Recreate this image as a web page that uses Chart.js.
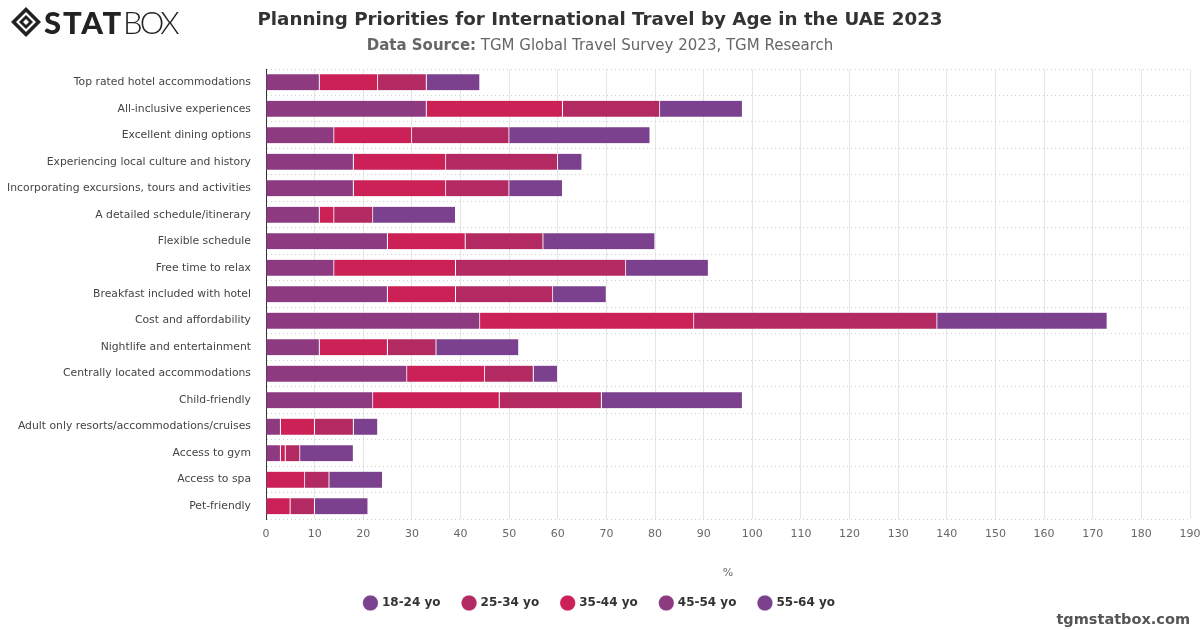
<!DOCTYPE html>
<html>
<head>
<meta charset="utf-8">
<script src="https://cdn.jsdelivr.net/npm/chart.js@4.4.1/dist/chart.umd.min.js"></script>
<style>
  html, body { margin:0; padding:0; background:#fff; }
  #wrap { position:relative; width:1200px; height:630px; overflow:hidden; }
  #c { position:absolute; left:0; top:0; }
  #title { position:absolute; left:0; width:1200px; top:8px; text-align:center; font-family:"DejaVu Sans", sans-serif; font-weight:bold; font-size:18.3px; color:#333; }
  #subtitle { position:absolute; left:0; width:1200px; top:36px; text-align:center; font-family:"DejaVu Sans", sans-serif; font-size:15px; color:#666; }
  #logo { position:absolute; left:10px; top:5px; height:34px; display:flex; align-items:center; font-family:Lato, "DejaVu Sans", sans-serif; font-size:31px; color:#222; }
  #footer { position:absolute; right:10px; top:611px; font-family:"DejaVu Sans", sans-serif; font-weight:bold; font-size:14.5px; color:#555; }
</style>
</head>
<body>
<div id="wrap">
  <canvas id="c" width="1200" height="630"></canvas>
  <div id="logo">
    <svg width="32" height="32" viewBox="0 0 32 32" style="margin-right:2px">
      <polygon points="16,1 31,16 16,31 1,16" fill="#222"/>
      <polygon points="16,6 26,16 16,26 6,16" fill="#fff"/>
      <polygon points="16,9 23,16 16,23 9,16" fill="#222"/>
      <polygon points="16,13 19,16 16,19 13,16" fill="#fff"/>
    </svg>
    <span style="font-weight:900; letter-spacing:1.8px">STAT</span><span style="font-weight:300; letter-spacing:-3px">BOX</span>
  </div>
  <div id="title">Planning Priorities for International Travel by Age in the UAE 2023</div>
  <div id="subtitle"><b>Data Source:</b> TGM Global Travel Survey 2023, TGM Research</div>
  <div id="footer">tgmstatbox.com</div>
</div>
<script>
const categories = [
  "Top rated hotel accommodations",
  "All-inclusive experiences",
  "Excellent dining options",
  "Experiencing local culture and history",
  "Incorporating excursions, tours and activities",
  "A detailed schedule/itinerary",
  "Flexible schedule",
  "Free time to relax",
  "Breakfast included with hotel",
  "Cost and affordability",
  "Nightlife and entertainment",
  "Centrally located accommodations",
  "Child-friendly",
  "Adult only resorts/accommodations/cruises",
  "Access to gym",
  "Access to spa",
  "Pet-friendly"
];
const age18_24 = [11, 17, 29, 5, 11, 17, 23, 17, 11, 35, 17, 5, 29, 5, 11, 11, 11];
const age25_34 = [10, 20, 20, 23, 13, 8, 16, 35, 20, 50, 10, 10, 21, 8, 3, 5, 5];
const age35_44 = [12, 28, 16, 19, 19, 3, 16, 25, 14, 44, 14, 16, 26, 7, 1, 8, 5];
const age45_54 = [11, 33, 14, 18, 18, 11, 25, 14, 25, 44, 11, 29, 22, 3, 3, 0, 0];
const age55_64 = [0, 0, 0, 0, 0, 0, 0, 0, 0, 0, 0, 0, 0, 0, 0, 0, 0];
const xTicks = [0,10,20,30,40,50,60,70,80,90,100,110,120,130,140,150,160,170,180,190];

const seriesNames = ["18-24 yo", "25-34 yo", "35-44 yo", "45-54 yo", "55-64 yo"];
const seriesData = [age18_24, age25_34, age35_44, age45_54, age55_64];
const seriesColors = ["#7b418f", "#b32a63", "#cb2157", "#8e3a81", "#7b418f"];

// stacking order: oldest group at the left, youngest at the right
const datasets = [];
for (let i = seriesNames.length - 1; i >= 0; i--) {
  datasets.push({
    label: seriesNames[i],
    data: seriesData[i],
    backgroundColor: seriesColors[i],
    borderColor: "#ffffff",
    borderWidth: {left: 0, right: 1, top: 0, bottom: 0},
    borderSkipped: false,
    barThickness: 16
  });
}

new Chart(document.getElementById("c"), {
  type: "bar",
  data: { labels: categories, datasets: datasets },
  options: {
    indexAxis: "y",
    responsive: false,
    animation: false,
    layout: { padding: { top: 69, left: 0, right: 10, bottom: 11 } },
    plugins: {
      tooltip: { enabled: false },
      legend: {
        position: "bottom",
        labels: {
          usePointStyle: true,
          pointStyle: "circle",
          boxWidth: 11,
          boxHeight: 11,
          padding: 23,
          color: "#333",
          font: { family: "DejaVu Sans", size: 12, weight: "bold" },
          sort: (a, b) => b.datasetIndex - a.datasetIndex
        }
      }
    },
    scales: {
      x: {
        stacked: true,
        min: 0,
        max: 190,
        afterBuildTicks: s => { s.ticks = xTicks.map(v => ({ value: v })); },
        afterFit: s => { s.height = 54.6; s.paddingRight = 0; s.paddingLeft = 0; },
        grid: { color: "#e6e6e6", drawTicks: false },
        border: { display: false },
        ticks: { color: "#666", padding: 8, font: { family: "DejaVu Sans", size: 11 } },
        title: { display: true, text: "%", color: "#666", padding: { top: 0, bottom: -6 }, font: { family: "DejaVu Sans", size: 11 } }
      },
      y: {
        stacked: true,
        afterFit: s => { s.width = 266; },
        grid: { offset: true, color: "#d0d0d0", drawTicks: false },
        border: { display: true, color: "#333", width: 1, dash: [1, 3] },
        ticks: { color: "#444", padding: 15, font: { family: "DejaVu Sans", size: 10.8 } }
      }
    }
  },
  plugins: [{
    id: "centerLegend",
    afterLayout(chart) {
      // centre the legend on the full page width
      const lg = chart.legend;
      const shift = (chart.width - (lg.left + lg.right)) / 2;
      lg.left += shift;
      lg.right += shift;
    }
  }]
});
</script>
</body>
</html>
